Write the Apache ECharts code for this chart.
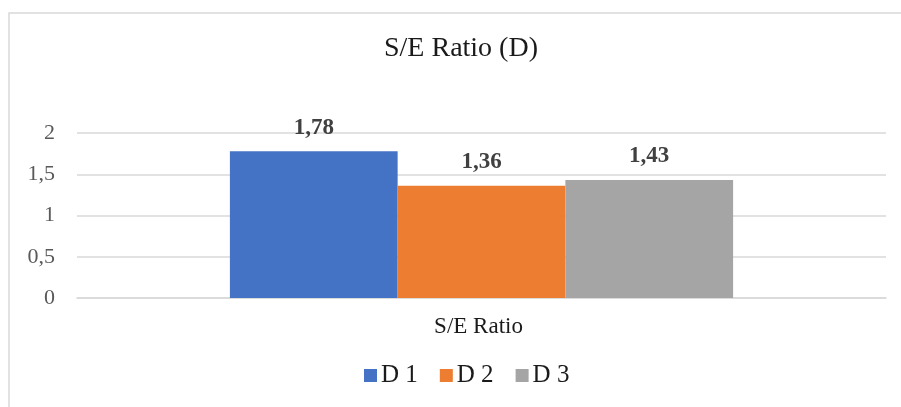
<!DOCTYPE html>
<html>
<head>
<meta charset="utf-8">
<script src="https://cdn.jsdelivr.net/npm/echarts@6/dist/echarts.min.js"></script>
<style>html,body{margin:0;padding:0;background:#fff;}#c{width:901px;height:407px;}</style>
</head>
<body>
<div id="c"></div>
<script>
var categories = ['S/E Ratio'];
var seriesNames = ['D 1', 'D 2', 'D 3'];
var d1Values = [1.78];
var d2Values = [1.36];
var d3Values = [1.43];
var yTicks = [0, 0.5, 1, 1.5, 2];
var colors = ['#4472C4', '#ED7D31', '#A5A5A5'];
var FONT = 'Liberation Serif';
function fmt(v){ return String(v).replace('.', ','); }

var chart = echarts.init(document.getElementById('c'), null, {renderer:'canvas'});
var values = [d1Values, d2Values, d3Values];
var series = seriesNames.map(function(n, i){
  return {
    name: n, type: 'bar', data: values[i],
    barGap: '0%', barCategoryGap: '37.8%',
    itemStyle: {color: colors[i]},
    label: {show: true, position: 'top', distance: 12,
      formatter: function(p){ return fmt(p.value); },
      fontFamily: FONT, fontSize: 23, fontWeight: 'bold', color: '#404040'}
  };
});
chart.setOption({
  animation: false,
  backgroundColor: '#fff',
  graphic: [{type:'rect', shape:{x:9, y:13, width:905, height:410},
    style:{fill:'none', stroke:'#d9d9d9', lineWidth:1.5}, silent:true}],
  title: {text: 'S/E Ratio (D)', left: 379, top: 30,
    textStyle: {fontFamily: FONT, fontSize: 28, fontWeight: 'normal', color: '#1a1a1a'}},
  legend: {data: seriesNames, bottom: 14, left: 359, itemWidth: 13, itemHeight: 13, itemGap: 22,
    icon: 'rect',
    textStyle: {fontFamily: FONT, fontSize: 25, color: '#1a1a1a', padding:[0,0,0,-1]}},
  grid: {left: 77, right: 15, top: 133, bottom: 109, containLabel: false},
  xAxis: {type: 'category', data: categories,
    axisLine: {lineStyle: {color: '#d9d9d9', width: 1.5}},
    axisTick: {show: false},
    axisLabel: {fontFamily: FONT, fontSize: 23, color: '#1a1a1a', margin: 17, padding: [0, 6, 0, 0]}},
  yAxis: {type: 'value', min: yTicks[0], max: yTicks[yTicks.length-1], interval: 0.5,
    axisLine: {show: false}, axisTick: {show: false},
    splitLine: {lineStyle: {color: '#d9d9d9', width: 1.5}},
    axisLabel: {fontFamily: FONT, fontSize: 22, color: '#595959', margin: 22,
      formatter: function(v){ return fmt(v); }}},
  series: series
});
</script>
</body>
</html>
